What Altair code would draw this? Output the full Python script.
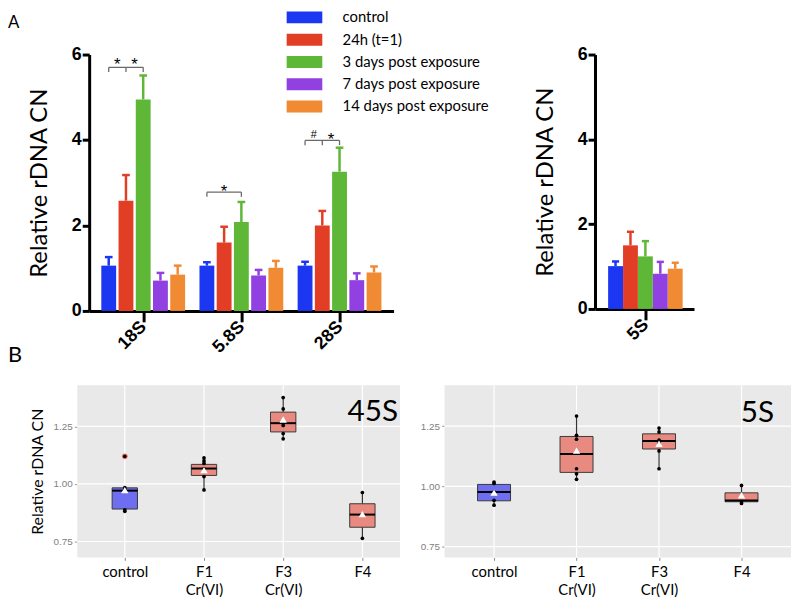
import altair as alt
import pandas as pd

# ---------------- Panel A : bar charts ----------------
series = ["control", " 24h (t=1)", "3 days post exposure",
          "7 days post exposure", "14 days post exposure"]
series_colors = ["#1b37f2", "#e23d25", "#5eb737", "#9141e2", "#f08a33"]

groups_main = ["18S", "5.8S", "28S"]
mean_18S = [1.06, 2.58, 4.95, 0.71, 0.85]
err_18S = [0.20, 0.60, 0.56, 0.18, 0.21]
mean_58S = [1.06, 1.60, 2.08, 0.83, 1.01]
err_58S = [0.08, 0.37, 0.47, 0.13, 0.16]
mean_28S = [1.06, 2.00, 3.26, 0.72, 0.90]
err_28S = [0.09, 0.34, 0.56, 0.16, 0.14]

groups_5S = ["5S"]
mean_5S = [1.01, 1.50, 1.24, 0.83, 0.95]
err_5S = [0.11, 0.32, 0.36, 0.28, 0.14]

a_yticks = [0, 2, 4, 6]

bracket_group = ["18S", "5.8S", "28S"]
bracket_from = [0, 0, 0]
bracket_to = [2, 2, 2]
bracket_y = [5.70, 2.78, 3.99]
bracket_mid = [True, False, True]

sig_group = ["18S", "18S", "5.8S", "28S", "28S"]
sig_between = [0.5, 1.5, 1.0, 0.5, 1.5]
sig_y = [5.86, 5.86, 2.90, 4.11, 4.11]
sig_text = ["*", "*", "*", "#", "*"]

# ---------------- Panel B : box plots ----------------
b_categories = ["control", "F1\nCr(VI)", "F3\nCr(VI)", "F4"]
b_yticks = [0.75, 1.00, 1.25]

q1_45S = [0.891, 1.037, 1.226, 0.812]
med_45S = [0.971, 1.067, 1.264, 0.867]
q3_45S = [0.983, 1.085, 1.312, 0.914]
wlo_45S = [0.881, 0.974, 1.196, 0.764]
whi_45S = [0.984, 1.113, 1.375, 0.963]
mean_45S = [0.973, 1.060, 1.280, 0.869]
pts_45S = [[0.984, 0.977, 0.888, 0.881, 1.120],
           [1.113, 1.100, 1.089, 1.066, 1.032, 0.974],
           [1.375, 1.326, 1.266, 1.254, 1.219, 1.196],
           [0.963, 0.867, 0.764]]
out_45S = [[1.120], [], [], []]

q1_5S = [0.940, 1.058, 1.155, 0.936]
med_5S = [0.977, 1.134, 1.188, 0.941]
q3_5S = [1.008, 1.207, 1.218, 0.973]
wlo_5S = [0.922, 1.029, 1.073, 0.929]
whi_5S = [1.018, 1.292, 1.242, 1.004]
meanb_5S = [0.974, 1.148, 1.177, 0.963]
pts_5S = [[1.018, 1.012, 0.977, 0.942, 0.922],
          [1.292, 1.212, 1.196, 1.073, 1.052, 1.029],
          [1.242, 1.226, 1.192, 1.179, 1.147, 1.073],
          [1.004, 0.936, 0.929]]
out_5S = [[], [], [], []]

LATO = "Lato"
ARIAL = "Liberation Sans"
BOX_BLUE = "#6e6ef0"
BOX_SALMON = "#e98a80"
PANEL_BG = "#e9e9e9"

W, H = 792, 592  # whole drawing area (page starts at 8,8)

legend = alt.Legend(orient="none", legendX=292, legendY=-1, title=None,
                    symbolType="M-3,-1H3V1H-3Z", symbolSize=144, symbolStrokeWidth=0,
                    symbolOpacity=1, labelFont=LATO, labelFontSize=15, labelColor="black",
                    labelOffset=31, rowPadding=6.5, padding=0, labelLimit=300)


def bar_panel(groups, means, errs, xrange, yrange, step_px, bar_px, shift=0.0,
              annotate=False):
    unit = (xrange[1] - xrange[0]) / len(groups)

    def xpos(gi, si):
        return gi + (si - 2) * step_px / unit

    rows = []
    for gi, g in enumerate(groups):
        for si, s in enumerate(series):
            x = xpos(gi, si)
            m = means[gi][si]
            rows.append(dict(series=s, x=x, xl=x - 4.0 / unit, xr=x + 4.0 / unit,
                             mean=m, top=m + errs[gi][si]))
    df = pd.DataFrame(rows)

    xs = alt.Scale(domain=[-0.5 + shift, len(groups) - 0.5 + shift], range=list(xrange),
                   nice=False, zero=False)
    ys = alt.Scale(domain=[a_yticks[0], a_yticks[-1]], range=list(yrange), nice=False)
    cs = alt.Scale(domain=series, range=series_colors)
    lab = "[" + ",".join("'%s'" % g for g in groups) + "][datum.value]"
    xaxis = alt.Axis(orient="bottom", offset=yrange[0] - H,
                     values=list(range(len(groups))), labelExpr=lab, labelAngle=-45,
                     labelAlign="right", labelBaseline="middle", labelFont=ARIAL,
                     labelFontWeight="bold", labelFontSize=18, labelColor="black",
                     labelPadding=2, labelOverlap=False, labelFlush=False,
                     tickSize=11, tickWidth=3, tickColor="black",
                     domainColor="black", domainWidth=3, grid=False, title=None)
    yaxis = alt.Axis(orient="left", offset=-xrange[0], values=a_yticks, format="d",
                     labelFont=ARIAL, labelFontWeight="bold", labelFontSize=18,
                     labelColor="black", labelPadding=1, labelFlush=False,
                     labelOverlap=False, tickSize=7, tickWidth=3, tickColor="black",
                     domainColor="black", domainWidth=3, grid=False,
                     title="Relative rDNA CN", titleFont=LATO, titleFontSize=24,
                     titleFontWeight="normal", titleColor="black",
                     titleX=-43, titleY=(yrange[0] + yrange[1]) / 2,
                     titleBaseline="alphabetic")
    X = lambda f: alt.X(f, scale=xs, axis=xaxis)
    Y = lambda f: alt.Y(f, scale=ys, axis=yaxis)
    C = alt.Color("series:N", scale=cs, legend=legend)

    layers = [
        alt.Chart(df).mark_bar(orient="vertical", size=bar_px).encode(
            x=X("x:Q"), y=Y("mean:Q"), color=C),
        alt.Chart(df).mark_rule(strokeWidth=2.5).encode(
            x=X("x:Q"), y=Y("mean:Q"), y2="top:Q", color=C),
        alt.Chart(df).mark_rule(strokeWidth=2.5).encode(
            x=X("xl:Q"), x2="xr:Q", y=Y("top:Q"), color=C),
    ]

    if annotate:
        d = 0.11
        seg = []
        for g, a, b, yv, mid in zip(bracket_group, bracket_from, bracket_to, bracket_y, bracket_mid):
            gi = groups.index(g)
            x0, x1 = xpos(gi, a), xpos(gi, b)
            seg.append(dict(x=x0, x2=x1, y=yv, y2=yv))
            seg.append(dict(x=x0, x2=x0, y=yv - d, y2=yv))
            seg.append(dict(x=x1, x2=x1, y=yv - d, y2=yv))
            if mid:
                xm = xpos(gi, (a + b) / 2)
                seg.append(dict(x=xm, x2=xm, y=yv - d, y2=yv))
        layers.append(alt.Chart(pd.DataFrame(seg)).mark_rule(
            color="#6a6a6a", strokeWidth=1.3).encode(
            x=X("x:Q"), x2="x2:Q", y=Y("y:Q"), y2="y2:Q"))
        sig = pd.DataFrame(dict(
            x=[xpos(groups.index(g), p) for g, p in zip(sig_group, sig_between)],
            y=sig_y, t=sig_text))
        layers.append(alt.Chart(sig).transform_filter("datum.t == '*'").mark_text(
            font=ARIAL, fontSize=17, color="black", baseline="middle", dy=5).encode(
            x=X("x:Q"), y=Y("y:Q"), text="t:N"))
        layers.append(alt.Chart(sig).transform_filter("datum.t == '#'").mark_text(
            font=ARIAL, fontSize=11, color="black", baseline="middle").encode(
            x=X("x:Q"), y=Y("y:Q"), text="t:N"))
    return alt.layer(*layers)


def box_panel(q1, med, q3, wlo, whi, mean, pts, outs, xrange, yrange, xdom, ydom,
              half, label, label_x, label_y, ytitle):
    n = len(b_categories)
    box = pd.DataFrame(dict(cat=b_categories, pos=list(range(1, n + 1)),
                            q1=q1, med=med, q3=q3, wlo=wlo, whi=whi, mean=mean))
    box["xl"] = box["pos"] - half
    box["xr"] = box["pos"] + half
    prow, orow = [], []
    for i, vals in enumerate(pts):
        for v in vals:
            prow.append(dict(pos=i + 1, v=v))
    for i, vals in enumerate(outs):
        for v in vals:
            orow.append(dict(pos=i + 1, v=v))
    pdf = pd.DataFrame(prow)

    xs = alt.Scale(domain=list(xdom), range=list(xrange), nice=False, zero=False)
    ys = alt.Scale(domain=list(ydom), range=list(yrange), nice=False, zero=False)
    parts = []
    for c in b_categories:
        parts.append("[" + ",".join("'%s'" % p for p in c.split("\n")) + "]")
    lab = "[" + ",".join(parts) + "][datum.value - 1]"
    xaxis = alt.Axis(orient="bottom", offset=yrange[0] - H,
                     values=list(range(1, n + 1)), labelExpr=lab, labelFont=LATO,
                     labelFontSize=15, labelColor="black", labelBaseline="top",
                     labelLineHeight=18, labelPadding=4, labelOverlap=False,
                     labelFlush=False, tickSize=3, tickColor="#8a8a8a", domain=False,
                     grid=False, title=None)
    yaxis = alt.Axis(orient="left", offset=-xrange[0], values=b_yticks, format=".2f",
                     labelFont=ARIAL, labelFontSize=10, labelColor="#808080",
                     labelPadding=2, labelFlush=False, labelOverlap=False, tickSize=3,
                     tickColor="#9a9a9a", domain=False, grid=False,
                     title=ytitle, titleFont=LATO, titleFontSize=16,
                     titleFontWeight="normal", titleColor="black", titleX=-35,
                     titleY=(yrange[0] + yrange[1]) / 2, titleBaseline="alphabetic")
    X = lambda f: alt.X(f, scale=xs, axis=xaxis)
    Y = lambda f: alt.Y(f, scale=ys, axis=yaxis)
    fill = alt.condition("datum.cat == 'control'", alt.value(BOX_BLUE), alt.value(BOX_SALMON))

    bg = pd.DataFrame(dict(x=[xdom[0]], x2=[xdom[1]], y=[ydom[0]], y2=[ydom[1]]))
    hgrid = pd.DataFrame(dict(y=b_yticks, x=[xdom[0]] * len(b_yticks),
                              x2=[xdom[1]] * len(b_yticks)))
    vgrid = pd.DataFrame(dict(x=list(range(1, n + 1)), y=[ydom[0]] * n, y2=[ydom[1]] * n))

    layers = [
        alt.Chart(bg).mark_rect(color=PANEL_BG).encode(
            x=X("x:Q"), x2="x2:Q", y=Y("y:Q"), y2="y2:Q"),
        alt.Chart(hgrid).mark_rule(color="white", strokeWidth=1.2).encode(
            x=X("x:Q"), x2="x2:Q", y=Y("y:Q")),
        alt.Chart(vgrid).mark_rule(color="white", strokeWidth=1.2).encode(
            x=X("x:Q"), y=Y("y:Q"), y2="y2:Q"),
        alt.Chart(box).mark_rule(color="#333333", strokeWidth=1.2).encode(
            x=X("pos:Q"), y=Y("whi:Q"), y2="q3:Q"),
        alt.Chart(box).mark_rule(color="#333333", strokeWidth=1.2).encode(
            x=X("pos:Q"), y=Y("q1:Q"), y2="wlo:Q"),
        alt.Chart(box).mark_rect(stroke="#3a3a3a", strokeWidth=1).encode(
            x=X("xl:Q"), x2="xr:Q", y=Y("q1:Q"), y2="q3:Q", fill=fill),
        alt.Chart(box).mark_rule(color="black", strokeWidth=2).encode(
            x=X("xl:Q"), x2="xr:Q", y=Y("med:Q")),
    ]
    if orow:
        layers.append(alt.Chart(pd.DataFrame(orow)).mark_circle(
            size=34, color="#f27d74", opacity=1).encode(x=X("pos:Q"), y=Y("v:Q")))
    layers.append(alt.Chart(pdf).mark_circle(size=14, color="black", opacity=1).encode(
        x=X("pos:Q"), y=Y("v:Q")))
    layers.append(alt.Chart(box).mark_point(shape="triangle-up", filled=True, size=55,
                                             color="white", opacity=1).encode(
        x=X("pos:Q"), y=Y("mean:Q")))
    lbl = pd.DataFrame(dict(x=[label_x], y=[label_y], t=[label]))
    layers.append(alt.Chart(lbl).mark_text(font=LATO, fontSize=30, color="black",
                                           align="right", baseline="alphabetic").encode(
        x=X("x:Q"), y=Y("y:Q"), text="t:N"))
    return alt.layer(*layers)


def letter(t, x, y, size):
    return alt.Chart(pd.DataFrame({"t": [t]})).mark_text(
        align="left", baseline="alphabetic", font=LATO, fontSize=size, color="black"
    ).encode(text="t:N", x=alt.value(x), y=alt.value(y))


# pixel ranges of each plot area inside the drawing (page coordinate - 8)
A1 = bar_panel(groups_main, [mean_18S, mean_58S, mean_28S], [err_18S, err_58S, err_28S],
               (82, 389.5), (303, 44), 18, 15, annotate=True)
A2 = bar_panel(groups_5S, [mean_5S], [err_5S], (593, 693), (301, 44), 16.75, 15,
               shift=-0.01)
B1 = box_panel(q1_45S, med_45S, q3_45S, wlo_45S, whi_45S, mean_45S, pts_45S, out_45S,
               (70, 396), (552, 378), (0.4, 4.475), (0.681, 1.429), 0.16,
               "45S", 4.45, 1.272, "Relative rDNA CN")
B2 = box_panel(q1_5S, med_5S, q3_5S, wlo_5S, whi_5S, meanb_5S, pts_5S, out_5S,
               (441, 791), (552, 378), (0.4, 4.6), (0.705, 1.42), 0.2,
               "5S", 4.396, 1.268, None)

chart = alt.layer(
    B1, B2, A1, A2,
    letter("A", 0, 17, 17), letter("B", 0, 355, 22),
).resolve_scale(x="independent", y="independent").properties(
    width=W, height=H, padding=0,
    autosize=alt.AutoSizeParams(type="none", contains="padding"),
    view=alt.ViewBackground(strokeWidth=0, strokeOpacity=0, fill="white"),
).configure_view(strokeWidth=0, strokeOpacity=0).configure(font=LATO)

chart.save("out.html", embed_options={"renderer": "svg", "actions": False})
